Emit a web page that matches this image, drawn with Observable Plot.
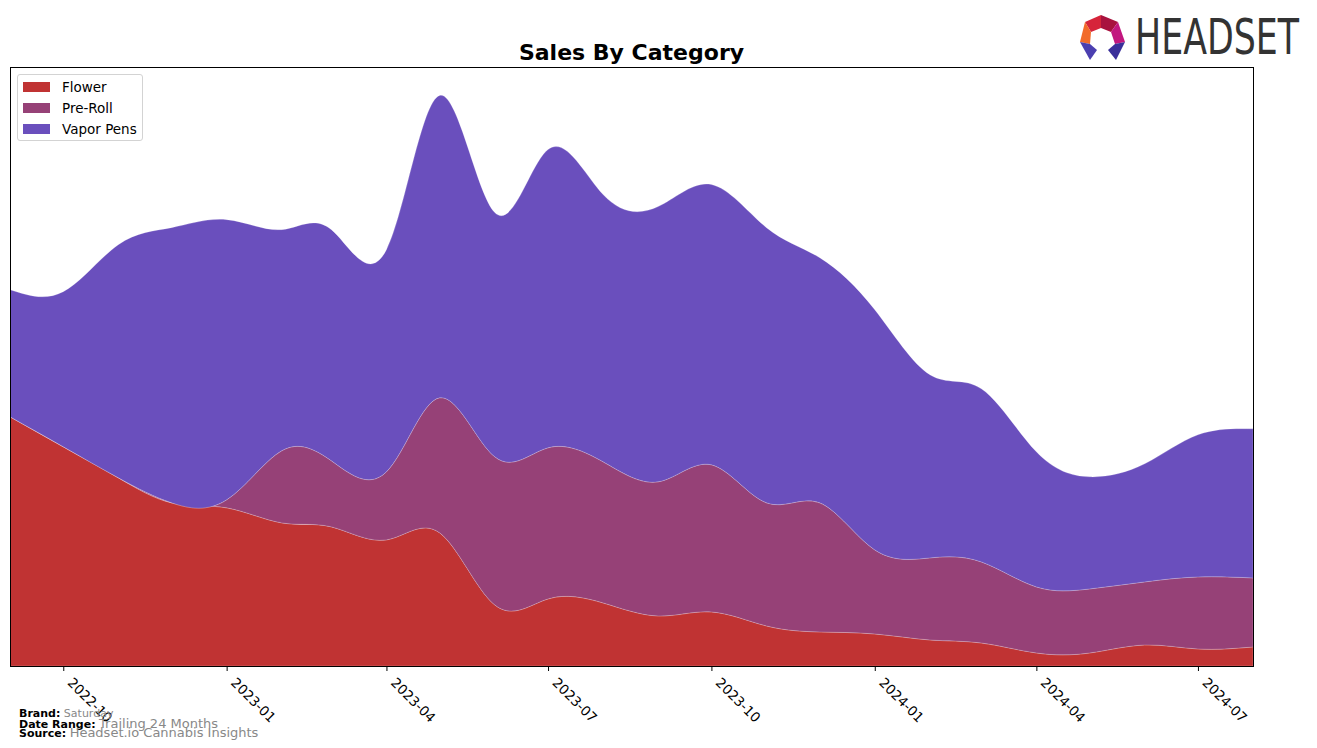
<!DOCTYPE html>
<html><head><meta charset="utf-8">
<script src="https://cdn.jsdelivr.net/npm/d3@7"></script>
<script src="https://cdn.jsdelivr.net/npm/@observablehq/plot@0.6"></script>
<style>
body{margin:0;background:#fff;font-family:"DejaVu Sans",sans-serif;}
#wrap{position:relative;width:1317px;height:748px;overflow:hidden;}
#chart{position:absolute;left:0;top:0;}
#title{position:absolute;top:40px;left:10px;width:1243px;text-align:center;font-weight:bold;font-size:22px;line-height:26px;color:#000;}
#legend{position:absolute;left:17px;top:74px;width:126px;height:67px;border:1px solid #d3d3d3;border-radius:3px;background:rgba(255,255,255,0.85);box-sizing:border-box;}
.li{position:absolute;left:0;height:20px;font-size:13.5px;line-height:20px;color:#000;}
.sw{position:absolute;left:5px;top:5px;width:27px;height:10px;}
.lt{position:absolute;left:44px;top:0;white-space:nowrap;}
.foot{position:absolute;left:19px;font-size:11px;line-height:11px;white-space:nowrap;}
.foot b{color:#000;}
.foot span{color:#888;}
#logo{position:absolute;left:1070px;top:8px;}
#logotext{position:absolute;left:1135px;top:12px;font-family:"DejaVu Sans",sans-serif;font-size:49px;line-height:52px;color:#333;white-space:nowrap;transform:scaleX(0.71);transform-origin:0 0;}
</style>
</head><body>
<div id="wrap">
  <div id="chart"></div>
  <div id="title">Sales By Category</div>
  <div id="legend"></div>
  <div class="foot" style="top:708px;"><b>Brand:</b> <span style="font-size:11px;">Saturday</span></div>
  <div class="foot" style="top:718px;"><b>Date Range:</b> <span style="font-size:13px;">Trailing 24 Months</span></div>
  <div class="foot" style="top:727px;"><b>Source:</b> <span style="font-size:13px;">Headset.io Cannabis Insights</span></div>
  <svg id="logo" width="60" height="56" viewBox="1070 8 60 56">
    <polygon points="1085,22 1101,15 1101,28 1091,32" fill="#d6243a"/>
    <polygon points="1101,15 1118,22 1111,32 1101,28" fill="#a8123e"/>
    <polygon points="1085,22 1091,32 1090,44 1080,42" fill="#f26b2a"/>
    <polygon points="1118,22 1125,42 1115,44 1111,32" fill="#c2177f"/>
    <polygon points="1080,42 1090,44 1097,50 1090,60" fill="#4b3fb0"/>
    <polygon points="1125,42 1115,44 1108,50 1116,60" fill="#3a2f9a"/>
  </svg>
  <div id="logotext">HEADSET</div>
</div>
<script>
const months = ["2022-09","2022-10","2022-11","2022-12","2023-01","2023-02","2023-03","2023-04","2023-05","2023-06","2023-07","2023-08","2023-09","2023-10","2023-11","2023-12","2024-01","2024-02","2024-03","2024-04","2024-05","2024-06","2024-07","2024-08"];
const categories = ["Flower","Pre-Roll","Vapor Pens"];
const colors = ["#c03333","#964177","#6a4fbd"];
const flower    = [249,219,188,163,158,143,139,126,133,61,67,63,50,54,40,34,32,26,23,13,13,21,17,19];
const preRoll   = [0,0,0,0,8,72,66,68,135,148,151,141,134,147,123,129,84,82,81,66,64,63,72,69];
const vaporPens = [127,155,233,275,280,221,231,222,302,244,298,267,275,280,275,245,240,183,173,135,112,118,142,149];
const tickLabels = ["2022-10","2023-01","2023-04","2023-07","2023-10","2024-01","2024-04","2024-07"];

const parse = d3.utcParse("%Y-%m");
const series = [flower, preRoll, vaporPens];
const rows = [];
categories.forEach((c, i) => months.forEach((m, j) => rows.push({date: parse(m), category: c, value: series[i][j]})));
const totalMax = d3.max(months.map((m, j) => flower[j] + preRoll[j] + vaporPens[j]));

const chart = Plot.plot({
  width: 1317,
  height: 748,
  marginLeft: 10,
  marginRight: 64,
  marginTop: 67,
  marginBottom: 82,
  style: {fontFamily: "DejaVu Sans, sans-serif", fontSize: "13.5px", color: "#000", background: "#fff"},
  x: {type: "utc", domain: [parse(months[0]), parse(months[months.length - 1])]},
  y: {domain: [0, totalMax * 1.05], axis: null},
  color: {domain: categories, range: colors},
  marks: [
    Plot.areaY(rows, {x: "date", y: "value", fill: "category", order: categories, curve: "natural", stroke: "#ffffff", strokeOpacity: 0.25, strokeWidth: 0.8}),
    Plot.frame({stroke: "#000", strokeWidth: 1}),
    Plot.axisX({ticks: tickLabels.map(parse), tickFormat: d3.utcFormat("%Y-%m"), tickRotate: 45, tickSize: 5, tickPadding: 4, label: null, fontSize: 13.5, textStroke: "none"})
  ]
});
// shift rotated tick labels to match the reference placement
chart.querySelectorAll("g[aria-label='x-axis tick label'] text").forEach(t => {
  const tr = t.getAttribute("transform") || "";
  t.setAttribute("transform", "translate(6,5) " + tr);
});
document.getElementById("chart").appendChild(chart);

const legend = document.getElementById("legend");
categories.forEach((c, i) => {
  const d = document.createElement("div");
  d.className = "li";
  d.style.top = (2 + i * 21) + "px";
  d.innerHTML = `<div class="sw" style="background:${colors[i]}"></div><div class="lt">${c}</div>`;
  legend.appendChild(d);
});
</script>
</body></html>
